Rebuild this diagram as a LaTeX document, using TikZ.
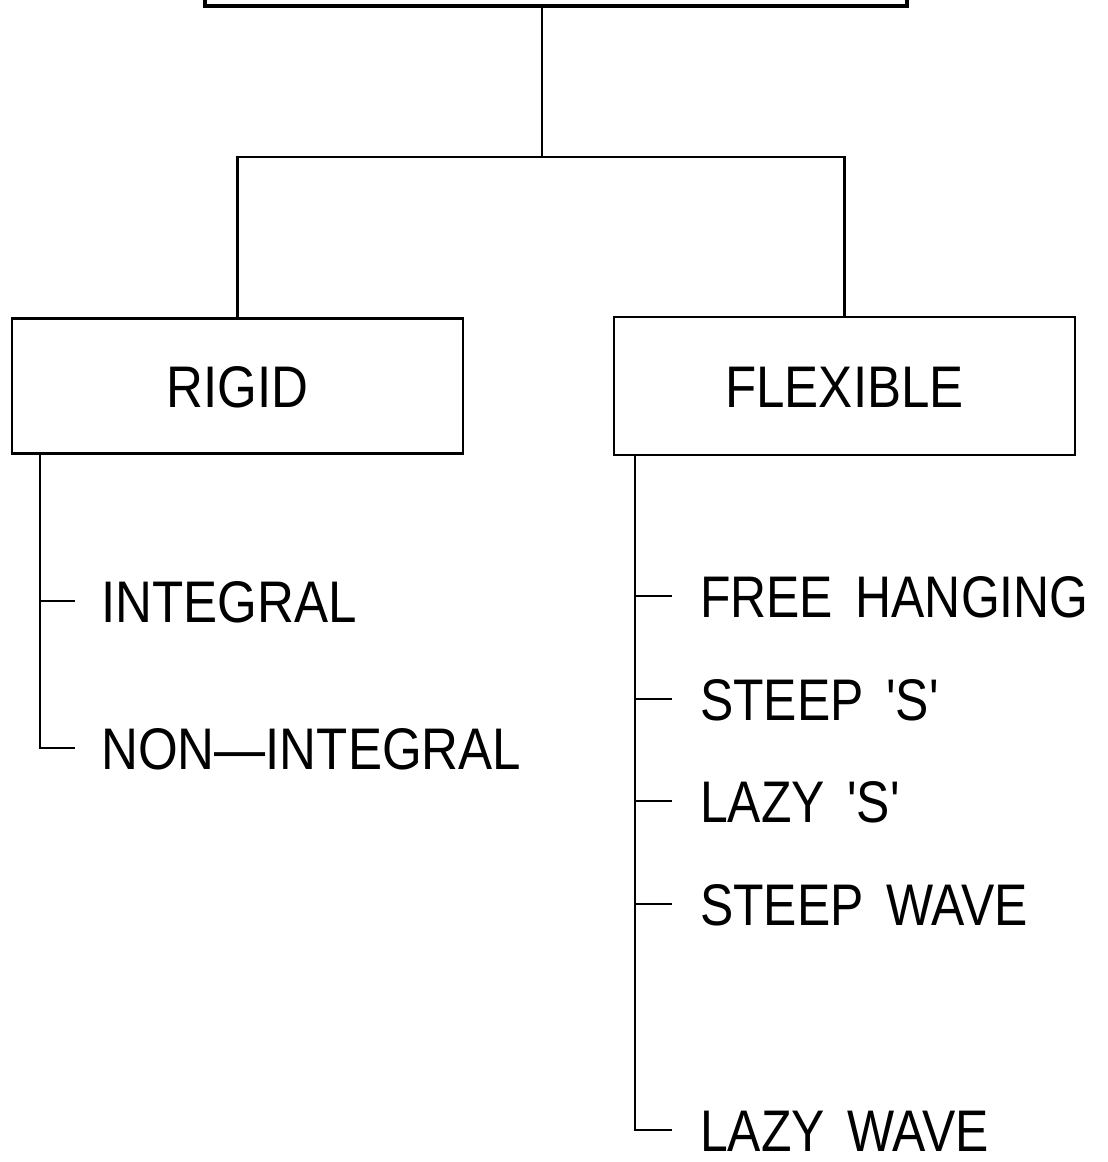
\documentclass[tikz,border=0pt]{standalone}
\usepackage{fontspec}
\newfontfamily\plotfont{Liberation Sans}
\usepackage{graphicx}
\newcommand{\wsp}{\hspace{0.45em}}
\begin{document}
\begin{tikzpicture}[x=1pt,y=-1pt,line width=2.4pt,
  box/.style={draw,inner sep=0pt,font=\plotfont\fontsize{58.7}{60}\selectfont,text height=42pt,text depth=0pt},
  item/.style={anchor=west,inner ysep=0pt,font=\plotfont\fontsize{58.7}{60}\selectfont,text height=42pt,text depth=0pt},
  litem/.style={item,inner xsep=25pt},
  ritem/.style={item,inner xsep=27pt}]
\useasboundingbox (0,0) rectangle (1108,1162);
\begin{scope}
\clip (0,0) rectangle (1108,1162);
\node[draw,line width=4pt,inner sep=0pt,minimum width=702pt,minimum height=80pt,anchor=south] (top) at (556,8) {};
\end{scope}
\coordinate (j) at (542,157);
\node[box,minimum width=451pt,minimum height=135pt] (rigid) at (237.5,386) {\scalebox{0.87}[1]{RIGID}};
\node[box,minimum width=461pt,minimum height=138pt] (flex) at (844.5,386) {\scalebox{0.87}[1]{FLEXIBLE}};
\draw ([xshift=-14pt]top.south) -- (j);
\draw (rigid.north) |- (j) -| (flex.north);
% rigid items
\node[litem] (int) at (75,601) {\scalebox{0.87}[1]{INTEGRAL}};
\node[litem] (nonint) at (75,748) {\scalebox{0.87}[1]{NON\textemdash INTEGRAL}};
\coordinate (lb) at (rigid.south -| 40,0);
\draw (lb) |- (nonint.west);
\draw (int.west) -- (int.west -| lb);
% flexible items
\node[ritem] (fh) at (672,596) {\scalebox{0.85}[1]{FREE\wsp HANGING}};
\node[ritem] (ss) at (672,699) {\scalebox{0.85}[1]{STEEP\wsp\textquotesingle S\textquotesingle}};
\node[ritem] (ls) at (672,801) {\scalebox{0.85}[1]{LAZY\wsp\textquotesingle S\textquotesingle}};
\node[ritem] (sw) at (672,904) {\scalebox{0.85}[1]{STEEP\wsp WAVE}};
\node[ritem] (lw) at (672,1130) {\scalebox{0.85}[1]{LAZY\wsp WAVE}};
\coordinate (rb) at (flex.south -| 635,0);
\draw (rb) |- (lw.west);
\foreach \n in {fh,ss,ls,sw} \draw (\n.west) -- (\n.west -| rb);
\end{tikzpicture}
\end{document}
